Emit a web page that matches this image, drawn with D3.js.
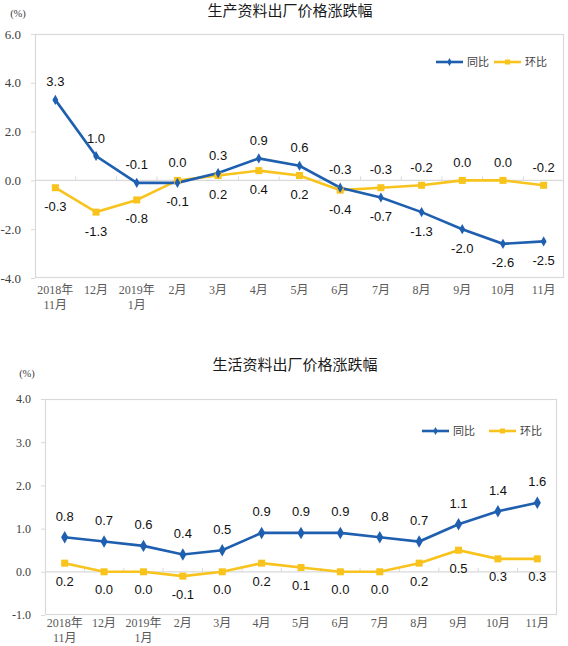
<!DOCTYPE html>
<html><head><meta charset="utf-8">
<script src="https://cdn.jsdelivr.net/npm/d3@7/dist/d3.min.js"></script>
<style>
html,body{margin:0;padding:0;background:#fff;}
svg{display:block;}
</style></head>
<body>
<svg id="c" width="568" height="646"></svg>
<script>
// ---- data ----
const categories = ["2018年|11月","12月","2019年|1月","2月","3月","4月","5月","6月","7月","8月","9月","10月","11月"];
const seriesNames = ["同比","环比"];

const prodTitle = "生产资料出厂价格涨跌幅";
const prodYoY = [3.3, 1.0, -0.1, -0.1, 0.3, 0.9, 0.6, -0.3, -0.7, -1.3, -2.0, -2.6, -2.5];
const prodMoM = [-0.3, -1.3, -0.8, 0.0, 0.2, 0.4, 0.2, -0.4, -0.3, -0.2, 0.0, 0.0, -0.2];
const prodTicks = [-4, -2, 0, 2, 4, 6];
const prodYoYLabelSide = ["a","a","a","b","a","a","a","a","b","b","b","b","b"];
const prodMoMLabelSide = ["b","b","b","a","b","b","b","b","a","a","a","a","a"];

const consTitle = "生活资料出厂价格涨跌幅";
const consYoY = [0.8, 0.7, 0.6, 0.4, 0.5, 0.9, 0.9, 0.9, 0.8, 0.7, 1.1, 1.4, 1.6];
const consMoM = [0.2, 0.0, 0.0, -0.1, 0.0, 0.2, 0.1, 0.0, 0.0, 0.2, 0.5, 0.3, 0.3];
const consTicks = [-1, 0, 1, 2, 3, 4];
const consYoYLabelSide = Array(13).fill("a");
const consMoMLabelSide = Array(13).fill("b");

// ---- styles ----
const BLUE = "#1f5fb0", YELLOW = "#f7c31c";
const svg = d3.select("#c");
const serif = "'Liberation Serif','Times New Roman','Noto Sans CJK SC',serif";
const sans = "'Liberation Sans',Arial,'Noto Sans CJK SC',sans-serif";
const cjk = "'Noto Sans CJK SC',sans-serif";
const f1 = v => d3.format(".1f")(v).replace("\u2212", "-");

function drawChart(o){
  const g = svg.append("g");
  const x = d3.scaleBand().domain(categories).range([o.left, o.right]);
  const y = d3.scaleLinear().domain(o.domain).range([o.bottom, o.top]);
  const cx = c => x(c) + x.bandwidth()/2;

  // title
  g.append("text").attr("x", o.titleX).attr("y", o.titleY).attr("text-anchor","middle")
    .attr("font-family", cjk).attr("font-size", 15).attr("fill","#1a1a1a").text(o.title);
  g.append("text").attr("x", o.unitX).attr("y", o.unitY).attr("text-anchor","middle")
    .attr("font-family", serif).attr("font-size", 10.5).attr("fill","#404040").text("(%)");

  // frame
  g.append("rect").attr("x", o.left+0.5).attr("y", o.top+0.5)
    .attr("width", o.right-o.left-1).attr("height", o.bottom-o.top-1)
    .attr("fill","none").attr("stroke","#d9d9d9").attr("stroke-width",1.2);

  // y axis
  const ya = g.append("g").attr("transform", `translate(${o.left},0)`)
    .call(d3.axisLeft(y).tickValues(o.ticks).tickFormat(f1).tickSize(4).tickPadding(o.yPad));
  ya.select(".domain").remove();
  ya.selectAll(".tick line").attr("stroke","#d9d9d9");
  ya.selectAll(".tick text").attr("font-family", serif).attr("font-size", o.yFont).attr("fill","#404040");

  // zero line with category ticks
  const xa = g.append("g").attr("transform", `translate(0,${y(0)})`)
    .call(d3.axisTop(x).tickSize(0).tickFormat(""));
  xa.select(".domain").attr("stroke","#d9d9d9").attr("stroke-width",1.2)
    .attr("d", `M${o.left},0H${o.right}`);
  xa.selectAll(".tick").remove();
  categories.slice(1).forEach(c => {
    g.append("line").attr("x1", x(c)).attr("x2", x(c))
      .attr("y1", y(0)-4).attr("y2", y(0)).attr("stroke","#d9d9d9");
  });

  // x labels
  categories.forEach(c => {
    const parts = c.split("|");
    const t = g.append("text").attr("x", cx(c)).attr("y", o.xLabelY)
      .attr("text-anchor","middle").attr("font-family", serif).attr("font-size", 12).attr("fill","#595959");
    parts.forEach((p,i) => t.append("tspan").attr("x", cx(c)).attr("dy", i===0?0:15).text(p));
  });

  // lines
  const line = d3.line().x((d,i)=>cx(categories[i])).y(d=>y(d));
  g.append("path").datum(o.mom).attr("d", line).attr("fill","none").attr("stroke",YELLOW).attr("stroke-width",2.6);
  g.append("path").datum(o.yoy).attr("d", line).attr("fill","none").attr("stroke",BLUE).attr("stroke-width",2.6);

  // markers
  g.selectAll(null).data(o.mom).enter().append("rect")
    .attr("x",(d,i)=>cx(categories[i])-3.5).attr("y",d=>y(d)-3.5).attr("width",7).attr("height",7).attr("fill",YELLOW);
  g.selectAll(null).data(o.yoy).enter().append("path")
    .attr("d", d3.symbol().type(d3.symbolDiamond).size(o.diamond))
    .attr("transform",(d,i)=>`translate(${cx(categories[i])},${y(d)})`).attr("fill",BLUE);

  // data labels
  function labels(vals, sides, offA, offB){
    g.selectAll(null).data(vals).enter().append("text")
      .attr("x",(d,i)=>cx(categories[i]))
      .attr("y",(d,i)=> y(d) + (sides[i]==="a" ? -offA : offB))
      .attr("dy","0.35em").attr("text-anchor","middle")
      .attr("font-family", sans).attr("font-size", 13).attr("fill","#111")
      .text(f1);
  }
  labels(o.yoy, o.yoySide, o.offA, o.offB);
  labels(o.mom, o.momSide, o.offA, o.offB);

  // legend
  const L = o.legend;
  [[BLUE, L.x1, seriesNames[0], "d"], [YELLOW, L.x2, seriesNames[1], "s"]].forEach(([col, lx, name, m]) => {
    g.append("line").attr("x1", lx).attr("x2", lx+27).attr("y1", L.y).attr("y2", L.y)
      .attr("stroke", col).attr("stroke-width", 2.6);
    if (m === "d") g.append("path").attr("d", d3.symbol().type(d3.symbolDiamond).size(18)())
      .attr("transform", `translate(${lx+13.5},${L.y})`).attr("fill", col);
    else g.append("rect").attr("x", lx+11).attr("y", L.y-2.5).attr("width",5).attr("height",5).attr("fill",col);
    g.append("text").attr("x", lx+31).attr("y", L.y).attr("dy","0.35em")
      .attr("font-family", cjk).attr("font-size", 11).attr("fill","#404040").text(name);
  });
}

drawChart({
  title: prodTitle, titleX: 290, titleY: 16, unitX: 18, unitY: 17,
  left: 35, right: 564, top: 34, bottom: 278, domain: [-4, 6], ticks: prodTicks,
  yPad: 10, yFont: 13, xLabelY: 294, diamond: 30,
  yoy: prodYoY, mom: prodMoM, yoySide: prodYoYLabelSide, momSide: prodMoMLabelSide,
  offA: 18, offB: 19,
  legend: {y: 62, x1: 436, x2: 494}
});

drawChart({
  title: consTitle, titleX: 295, titleY: 370, unitX: 27, unitY: 377,
  left: 45, right: 557, top: 399, bottom: 615, domain: [-1, 4], ticks: consTicks,
  yPad: 10, yFont: 12, xLabelY: 627, diamond: 45,
  yoy: consYoY, mom: consMoM, yoySide: consYoYLabelSide, momSide: consMoMLabelSide,
  offA: 21, offB: 18,
  legend: {y: 431, x1: 422, x2: 489}
});
</script>
</body></html>
